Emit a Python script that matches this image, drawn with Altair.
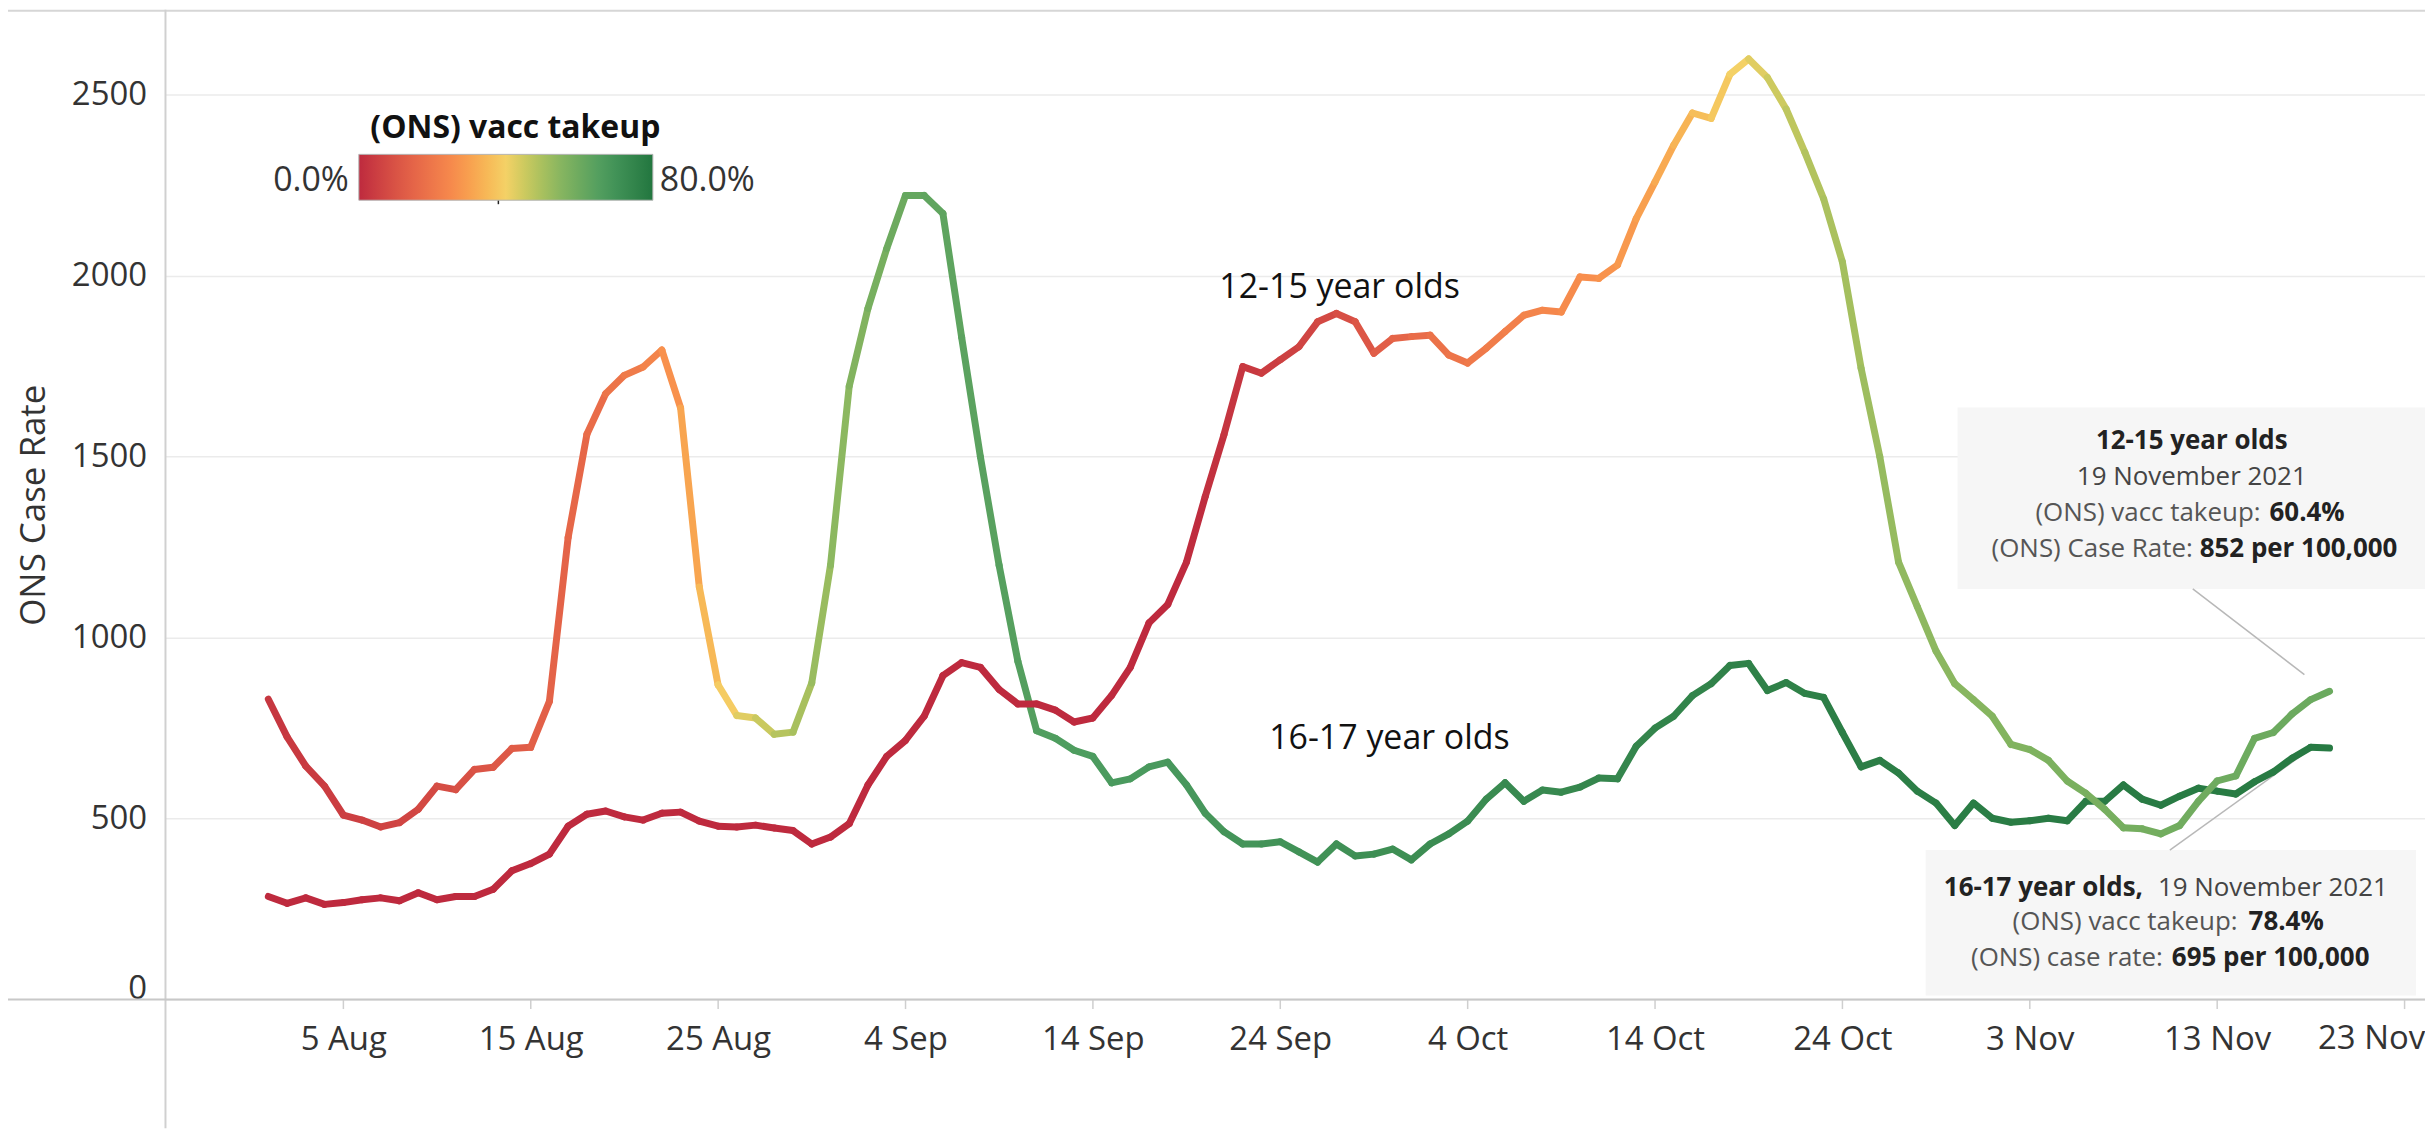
import altair as alt
import pandas as pd

# ---------------- data ----------------
START = "2021-08-01"
N_DAYS = 111  # 1 Aug 2021 .. 19 Nov 2021
dates = pd.date_range(START, periods=N_DAYS, freq="D")

rate_1617 = [
    830, 726, 645, 590, 510, 496, 477, 489, 526, 590,
    580, 636, 642, 694, 697, 824, 1277, 1562, 1674, 1725,
    1748, 1795, 1635, 1140, 870, 785, 778, 733, 739, 875,
    1200, 1695, 1910, 2075, 2222, 2222, 2172, 1830, 1500, 1200,
    935, 743, 722, 689, 672, 599, 610, 643, 656, 593,
    515, 464, 430, 430, 436, 408, 380, 430, 397, 402,
    416, 386, 430, 458, 493, 554, 599, 548, 579, 573,
    587, 612, 610, 700, 750, 783, 840, 873, 923, 929,
    854, 876, 846, 835, 738, 643, 661, 626, 576, 543,
    481, 543, 501, 490, 494, 501, 494, 548, 548, 593,
    554, 537, 562, 584, 576, 568, 602, 629, 667, 697,
    695,
]
takeup_1617 = [
    3, 3, 4, 4, 5, 5, 6, 6, 7, 8,
    9, 10, 11, 12, 13, 14, 15, 16, 18, 20,
    22, 25, 29, 33, 37, 41, 44, 47, 49, 51,
    53, 55, 57, 59, 61, 62, 63, 63, 64, 64,
    65, 65, 66, 66, 66, 67, 67, 67, 68, 68,
    68, 69, 69, 69, 70, 70, 70, 70, 71, 71,
    71, 71, 72, 72, 72, 72, 73, 73, 73, 73,
    74, 74, 74, 74, 75, 75, 75, 75, 76, 76,
    76, 76, 76, 77, 77, 77, 77, 77, 77, 77,
    77.5, 77.5, 77.5, 77.5, 78, 78, 78, 78, 78, 78,
    78, 78, 78.1, 78.1, 78.2, 78.2, 78.2, 78.3, 78.3, 78.4,
    78.4,
]
rate_1215 = [
    285, 266, 281, 263, 268, 276, 281, 273, 295, 276,
    285, 285, 305, 356, 376, 402, 479, 512, 521, 505,
    496, 515, 518, 493, 479, 477, 482, 474, 467, 430,
    449, 486, 593, 672, 716, 783, 895, 931, 918, 857,
    817, 817, 800, 767, 778, 840, 918, 1041, 1092, 1209,
    1390, 1561, 1749, 1731, 1768, 1804, 1873, 1896, 1873, 1786,
    1827, 1832, 1836, 1781, 1759, 1800, 1846, 1891, 1905, 1900,
    1997, 1993, 2030, 2158, 2259, 2361, 2450, 2435, 2557, 2599,
    2548, 2461, 2341, 2213, 2039, 1745, 1500, 1209, 1086, 963,
    873, 829, 783, 705, 691, 661, 604, 570, 526, 475,
    472, 458, 481, 548, 604, 618, 722, 738, 789, 829,
    852,
]
takeup_1215 = [
    0, 0, 0, 0, 0, 0, 0, 0, 0, 0,
    0, 0, 0, 0, 0, 0, 0, 0, 0, 0,
    0, 0, 0, 0, 0, 0, 0, 0, 0, 0,
    0, 0, 0, 0, 0, 0, 0, 0, 0, 0,
    0, 0, 0, 0, 0, 0, 0, 0, 0, 0,
    1, 2, 3, 4, 5, 6, 7, 8, 10, 12,
    14, 16, 18, 19, 20, 21, 22, 23, 24, 25,
    26, 27, 28, 29, 31, 33, 35, 37, 39, 41,
    44, 46, 48, 49, 50, 51, 52, 53, 53.5, 54,
    54.5, 55, 55.5, 56, 56.5, 57, 57.3, 57.6, 58, 58.3,
    58.6, 58.9, 59.2, 59.5, 59.7, 59.9, 60.0, 60.1, 60.2, 60.3,
    60.4,
]
for arr in (rate_1617, takeup_1617, rate_1215, takeup_1215):
    assert len(arr) == N_DAYS

tick_labels = ["2021-08-05", "2021-08-15", "2021-08-25", "2021-09-04", "2021-09-14",
               "2021-09-24", "2021-10-04", "2021-10-14", "2021-10-24", "2021-11-03",
               "2021-11-13", "2021-11-23"]
y_ticks = [0, 500, 1000, 1500, 2000, 2500]
palette = ["#be2a3e", "#e25f48", "#f88f4d", "#f4d166", "#90b960", "#4b9b5f", "#22763f"]

# ---------------- segments table ----------------
rows = []
for name, rates, tk in (("16-17", rate_1617, takeup_1617), ("12-15", rate_1215, takeup_1215)):
    for i in range(N_DAYS - 1):
        rows.append({
            "series": name,
            "t0": dates[i].strftime("%Y-%m-%dT00:00:00"),
            "t1": dates[i + 1].strftime("%Y-%m-%dT00:00:00"),
            "v0": rates[i],
            "v1": rates[i + 1],
            "takeup": (tk[i] + tk[i + 1]) / 2.0,
        })
seg_df = pd.DataFrame(rows)

FONT = "Open Sans"
W, H = 2267, 993


def dt(s, h=0, m=0):
    y, mo, d = [int(p) for p in s.split("-")]
    return alt.DateTime(year=y, month=mo, date=d, hours=h, minutes=m)


xscale = alt.Scale(domain=[dt("2021-07-26", 12, 15), dt("2021-11-24", 2, 17)])
yscale = alt.Scale(domain=[0, 2735], nice=False, zero=False)
cscale = alt.Scale(domain=[0, 13.333, 26.667, 40, 53.333, 66.667, 80], range=palette)

segments = alt.Chart(seg_df).mark_rule(strokeWidth=7, strokeCap="round").encode(
    x=alt.X("t0:T", scale=xscale, axis=alt.Axis(
        title=None, format="%-d %b", values=[dt(s) for s in tick_labels],
        labelExpr="(month(datum.value) == 10 && date(datum.value) == 23) ? '' : datum.label",
        labelFont=FONT, labelFontSize=33, labelColor="#333",
        tickSize=9, tickColor="#cfcfcf", tickWidth=1.5, labelPadding=15,
        domain=False, grid=False, labelFlush=False, labelOverlap=False)),
    x2="t1:T",
    y=alt.Y("v0:Q", scale=yscale, axis=alt.Axis(
        title="ONS Case Rate", titleFont=FONT, titleFontSize=35, titleFontWeight="normal",
        titleColor="#333", titleX=-132, titleY=H / 2, titleAngle=270,
        titleAlign="center", titleBaseline="middle",
        values=y_ticks, format="d", labelFont=FONT, labelFontSize=33, labelColor="#333",
        ticks=False, labelPadding=19, domain=False, grid=True,
        gridColor="#ebebeb", gridWidth=1.5, labelFlush=True, labelFlushOffset=6)),
    y2="v1:Q",
    color=alt.Color("takeup:Q", scale=cscale, legend=alt.Legend(
        orient="none", legendX=194, legendY=145, direction="horizontal",
        title=None, gradientLength=295, gradientThickness=46, labelExpr="''",
        padding=0, gradientStrokeColor="#b5b5b5", gradientStrokeWidth=1)),
)

dummy = pd.DataFrame({"k": [0]})

# last tick label, shifted left like the reference (it runs off the right edge)
last_tick = alt.Chart(dummy).mark_text(
    text="23 Nov", font=FONT, fontSize=33, color="#333", align="center",
    baseline="top", dx=-33).encode(x=alt.datum(dt("2021-11-23")), y=alt.value(H + 24))


def text(t, x, y, size=26, weight="normal", align="center", color="#333"):
    return alt.Chart(dummy).mark_text(
        text=t, font=FONT, fontSize=size, fontWeight=weight, align=align,
        baseline="alphabetic", color=color).encode(x=alt.value(x), y=alt.value(y))


def rule(x, x2, y, y2, color="#d0d0d0", width=2):
    return alt.Chart(dummy).mark_rule(color=color, strokeWidth=width).encode(
        x=alt.value(x), x2=alt.value(x2), y=alt.value(y), y2=alt.value(y2))


def box(x, x2, y, y2):
    return alt.Chart(dummy).mark_rect(fill="#f6f6f6").encode(
        x=alt.value(x), x2=alt.value(x2), y=alt.value(y), y2=alt.value(y2))


layers = [
    rule(-158, W, 1, 1, "#d6d6d6", 2),        # top border
    rule(0, 0, 0, H + 129, "#d0d0d0", 2),     # y axis line
    rule(-158, W, H, H, "#c8c8c8", 2),        # x axis line
    box(1798, W, 399, 581),
    box(1766, 2258, 843, 989),
    rule(2034, 2146, 581, 667, "#b8b8b8", 1.5),
    rule(2011, 2146, 843, 746, "#b8b8b8", 1.5),
    segments,
    last_tick,
    # legend texts
    text("(ONS) vacc takeup", 351, 129, 32, "bold", "center", "#111"),
    text("0.0%", 184, 182, 34, "normal", "right", "#333"),
    text("80.0%", 496, 182, 34, "normal", "left", "#333"),
    rule(334, 334, 186, 195, "#222", 1.5),
    # series labels
    text("12-15 year olds", 1178, 289, 34, "normal", "center", "#111"),
    text("16-17 year olds", 1228, 742, 34, "normal", "center", "#111"),
    # tooltip box 1
    text("12-15 year olds", 2033, 441, 26, "bold", "center", "#222"),
    text("19 November 2021", 2033, 477, 26, "normal", "center", "#444"),
    text("(ONS) vacc takeup:", 2102, 513, 26, "normal", "right", "#555"),
    text("60.4%", 2111, 513, 26, "bold", "left", "#222"),
    text("(ONS) Case Rate:", 2034, 549, 26, "normal", "right", "#555"),
    text("852 per 100,000", 2041, 549, 26, "bold", "left", "#222"),
    # tooltip box 2
    text("16-17 year olds,", 1984, 889, 26, "bold", "right", "#222"),
    text("19 November 2021", 1999, 889, 26, "normal", "left", "#444"),
    text("(ONS) vacc takeup:", 2079, 923, 26, "normal", "right", "#555"),
    text("78.4%", 2090, 923, 26, "bold", "left", "#222"),
    text("(ONS) case rate:", 2004, 959, 26, "normal", "right", "#555"),
    text("695 per 100,000", 2013, 959, 26, "bold", "left", "#222"),
]

chart = alt.layer(*layers).properties(
    width=W, height=H,
    padding={"left": 158, "top": 0, "right": 0, "bottom": 129},
    autosize=alt.AutoSizeParams(type="none"),
    background="white",
).configure_view(strokeWidth=0)

chart.save("out.html", embed_options={"renderer": "svg", "actions": False})
